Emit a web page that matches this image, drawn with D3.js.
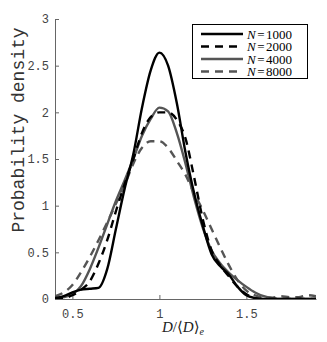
<!doctype html>
<html>
<head>
<meta charset="utf-8">
<script src="https://d3js.org/d3.v7.min.js"></script>
<style>
  body { margin: 0; background: #fff; }
  .tick text { font-family: "Liberation Mono", "Courier New", monospace; font-size: 12px; fill: #444; }
</style>
</head>
<body>
<svg width="327" height="342"></svg>
<script>
// shared grid of D/<D>_e values
var xs = [0.40, 0.45, 0.50, 0.55, 0.60, 0.65, 0.70, 0.75, 0.80, 0.85, 0.90, 0.95, 1.00, 1.05, 1.10,
          1.15, 1.20, 1.25, 1.30, 1.35, 1.40, 1.45, 1.50, 1.55, 1.60, 1.65, 1.70, 1.75, 1.80, 1.85, 1.90];

var n1000 = [0.01, 0.03, 0.07, 0.10, 0.11, 0.12, 0.32, 0.75, 1.18, 1.55, 2.05, 2.45, 2.64, 2.50, 2.10,
             1.57, 1.13, 0.78, 0.48, 0.35, 0.26, 0.13, 0.04, 0.01, 0, 0, 0, 0, 0, 0, 0];
var n2000 = [0.00, 0.01, 0.04, 0.10, 0.19, 0.38, 0.63, 0.94, 1.23, 1.50, 1.78, 1.95, 2.00, 2.00, 1.92,
             1.72, 1.30, 0.85, 0.52, 0.36, 0.24, 0.13, 0.05, 0.01, 0, 0, 0, 0, 0, 0, 0];
var n4000 = [0.01, 0.02, 0.05, 0.14, 0.32, 0.55, 0.80, 1.05, 1.27, 1.50, 1.75, 1.93, 2.05, 2.01, 1.78,
             1.45, 1.08, 0.76, 0.52, 0.38, 0.28, 0.20, 0.13, 0.07, 0.03, 0.01, 0, 0, 0, 0, 0];
var n8000 = [0.03, 0.07, 0.15, 0.29, 0.45, 0.63, 0.82, 1.02, 1.22, 1.45, 1.62, 1.69, 1.69, 1.62, 1.48,
             1.33, 1.13, 0.95, 0.75, 0.55, 0.36, 0.20, 0.09, 0.04, 0.02, 0.015, 0.03, 0.02, 0.02, 0.04, 0.03];

var seriesNames = ["1000", "2000", "4000", "8000"];
var seriesVals = [n1000, n2000, n4000, n8000];
var seriesColor = ["#000", "#000", "#555", "#555"];
var seriesDash = [null, "8,6", null, "8,6"];

var xTicks = [0.5, 1, 1.5];
var yTicks = [0, 0.5, 1, 1.5, 2, 2.5, 3];

var svg = d3.select("svg");
var mLeft = 55, mRight = 316, mTop = 19, mBottom = 299;

var x = d3.scaleLinear().domain([0.4, 1.9]).range([mLeft, mRight]);
var y = d3.scaleLinear().domain([0, 3]).range([mBottom, mTop]);

svg.append("clipPath").attr("id", "clip")
  .append("rect").attr("x", mLeft).attr("y", mTop - 2)
  .attr("width", mRight - mLeft).attr("height", mBottom - mTop + 2);

// axes, ticks inside like matlab
svg.append("g").attr("transform", "translate(0," + mBottom + ")")
  .call(d3.axisBottom(x).tickValues(xTicks).tickSize(-4).tickSizeOuter(0).tickPadding(10)
    .tickFormat(function(d) { return d; }));
svg.append("g").attr("transform", "translate(" + mLeft + ",0)")
  .call(d3.axisLeft(y).tickValues(yTicks).tickSize(-4).tickSizeOuter(0).tickPadding(6)
    .tickFormat(function(d) { return d; }));
svg.selectAll(".domain").attr("stroke", "#666");
svg.selectAll(".tick line").attr("stroke", "#666");

var line = d3.line()
  .x(function(d) { return x(d[0]); })
  .y(function(d) { return y(d[1]); })
  .curve(d3.curveMonotoneX);

// draw N=8000 first so black ends on top
var order = [3, 2, 1, 0];
order.forEach(function(i) {
  var pts = xs.map(function(v, j) { return [v, seriesVals[i][j]]; });
  svg.append("path")
    .attr("clip-path", "url(#clip)")
    .attr("d", line(pts))
    .attr("fill", "none")
    .attr("stroke", seriesColor[i])
    .attr("stroke-width", 2.4)
    .attr("stroke-dasharray", seriesDash[i]);
});

// legend
var lg = svg.append("g");
lg.append("rect").attr("x", 192.5).attr("y", 24.5).attr("width", 115).attr("height", 54)
  .attr("fill", "#fff").attr("stroke", "#000").attr("stroke-width", 1);
seriesNames.forEach(function(name, i) {
  var yy = 34 + i * 12.5;
  lg.append("line").attr("x1", 201).attr("x2", 243).attr("y1", yy).attr("y2", yy)
    .attr("stroke", seriesColor[i]).attr("stroke-width", 2.4)
    .attr("stroke-dasharray", seriesDash[i]);
  var t = lg.append("text").attr("x", 247).attr("y", yy + 4.5)
    .attr("font-family", "'Liberation Serif', 'DejaVu Serif', serif").attr("font-size", 13);
  t.append("tspan").attr("font-style", "italic").text("N");
  t.append("tspan").attr("dx", 1.5).text("=");
  t.append("tspan").attr("dx", 1.5).text(name);
});

// axis labels
svg.append("text")
  .attr("transform", "translate(19,130) rotate(-90)")
  .attr("text-anchor", "middle")
  .attr("dominant-baseline", "central")
  .attr("font-family", "'Liberation Mono', 'Courier New', monospace")
  .attr("font-size", 18).attr("fill", "#333")
  .text("Probability density");

var xl = svg.append("text")
  .attr("x", 183).attr("y", 332)
  .attr("text-anchor", "middle")
  .attr("font-family", "'Liberation Serif', 'DejaVu Serif', serif")
  .attr("font-size", 15).attr("fill", "#222");
xl.append("tspan").attr("font-style", "italic").text("D");
xl.append("tspan").text("/⟨");
xl.append("tspan").attr("font-style", "italic").text("D");
xl.append("tspan").text("⟩");
xl.append("tspan").attr("font-style", "italic").attr("font-size", 10).attr("dy", 3).text("e");
</script>
</body>
</html>
